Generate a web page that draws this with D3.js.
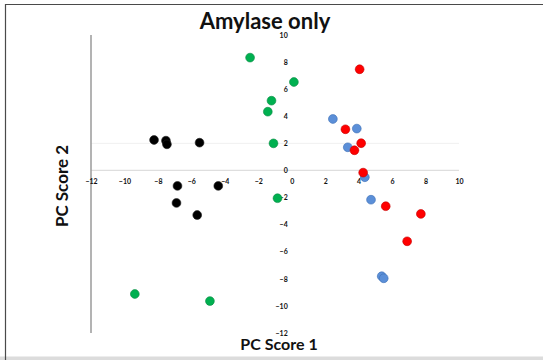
<!DOCTYPE html>
<html>
<head>
<meta charset="utf-8">
<script src="https://cdn.jsdelivr.net/npm/d3@7"></script>
<style>
  html, body { margin: 0; padding: 0; background: #fff; }
  svg { display: block; }
</style>
</head>
<body>
<svg id="chart" width="543" height="360"></svg>
<script>
// PCA scores (PC1, PC2) for each group
const redX   = [4.06, 3.21, 4.15, 3.75, 4.27, 5.62, 7.72, 6.90];
const redY   = [7.47, 3.04, 2.01, 1.49, -0.16, -2.64, -3.21, -5.23];
const blueX  = [2.46, 3.89, 3.35, 4.37, 4.74, 5.38, 5.50];
const blueY  = [3.80, 3.09, 1.71, -0.50, -2.16, -7.81, -7.96];
const greenX = [-2.49, 0.13, -1.21, -1.43, -1.09, -0.85, -9.38, -4.89];
const greenY = [8.33, 6.53, 5.15, 4.34, 2.00, -2.05, -9.12, -9.64];
const blackX = [-8.23, -7.52, -7.46, -5.51, -6.83, -4.39, -6.89, -5.65];
const blackY = [2.25, 2.20, 1.93, 2.05, -1.14, -1.14, -2.40, -3.29];

const tickValues = [-12, -10, -8, -6, -4, -2, 0, 2, 4, 6, 8, 10];
const titleText = "Amylase only";
const xTitle = "PC Score 1";
const yTitle = "PC Score 2";

const series = [
  { xs: blackX, ys: blackY, color: "#000000", stroke: "#222" },
  { xs: greenX, ys: greenY, color: "#00b050", stroke: "#0a8a43" },
  { xs: blueX,  ys: blueY,  color: "#5b8fd8", stroke: "#3d6fb5" },
  { xs: redX,   ys: redY,   color: "#ff0000", stroke: "#c40000" }
];

const svg = d3.select("#chart");
const font = "Lato, 'Open Sans', 'DejaVu Sans', sans-serif";

// outer frame
svg.append("rect").attr("x", 0).attr("y", 356.5).attr("width", 543).attr("height", 4).attr("fill", "#dcdcdc");
svg.append("path").attr("d", "M5.5,360 V4.5 H543").attr("fill", "none").attr("stroke", "#4a4a4a").attr("stroke-width", 1.2);

const x = d3.scaleLinear().domain([-12, 10]).range([91, 459]);
const y = d3.scaleLinear().domain([-12, 10]).range([333, 35]);

// light gridline at PC2 = 2 and the zero line
svg.append("line").attr("x1", x(-12)).attr("x2", x(10)).attr("y1", y(2)).attr("y2", y(2))
  .attr("stroke", "#f0f0f0").attr("stroke-width", 1);
svg.append("line").attr("x1", x(-12)).attr("x2", x(10)).attr("y1", y(0)).attr("y2", y(0))
  .attr("stroke", "#dedede").attr("stroke-width", 1.2);

// vertical axis line at the left edge of the plot
svg.append("line").attr("x1", x(-12)).attr("x2", x(-12)).attr("y1", y(10)).attr("y2", y(-12))
  .attr("stroke", "#9a9a9a").attr("stroke-width", 1.5);

// tick labels (axes cross at the origin)
const xAxis = svg.append("g").attr("transform", `translate(0,${y(0)})`)
  .call(d3.axisBottom(x).tickValues(tickValues).tickSize(0).tickPadding(9).tickFormat(d3.format("d")));
const yAxis = svg.append("g").attr("transform", `translate(${x(0)},0)`)
  .call(d3.axisLeft(y).tickValues(tickValues).tickSize(0).tickPadding(4).tickFormat(d3.format("d")));
[xAxis, yAxis].forEach(g => {
  g.select(".domain").remove();
  g.selectAll("text").attr("font-family", font).attr("font-size", 7)
    .attr("font-weight", "bold").attr("fill", "#111");
});

// points
series.forEach(s => {
  svg.append("g").selectAll("circle")
    .data(s.xs.map((v, i) => [v, s.ys[i]]))
    .join("circle")
    .attr("cx", d => x(d[0]))
    .attr("cy", d => y(d[1]))
    .attr("r", 4.4)
    .attr("fill", s.color)
    .attr("stroke", s.stroke)
    .attr("stroke-width", 0.6);
});

// titles
svg.append("text").attr("x", 265).attr("y", 29).attr("text-anchor", "middle")
  .attr("font-family", font).attr("font-weight", "bold").attr("font-size", 22)
  .attr("fill", "#111").text(titleText);
svg.append("text").attr("x", 279).attr("y", 350).attr("text-anchor", "middle")
  .attr("font-family", font).attr("font-weight", "bold").attr("font-size", 16)
  .attr("fill", "#111").text(xTitle);
svg.append("text").attr("transform", "translate(68,186) rotate(-90)").attr("text-anchor", "middle")
  .attr("font-family", font).attr("font-weight", "bold").attr("font-size", 17)
  .attr("fill", "#111").text(yTitle);
</script>
</body>
</html>
